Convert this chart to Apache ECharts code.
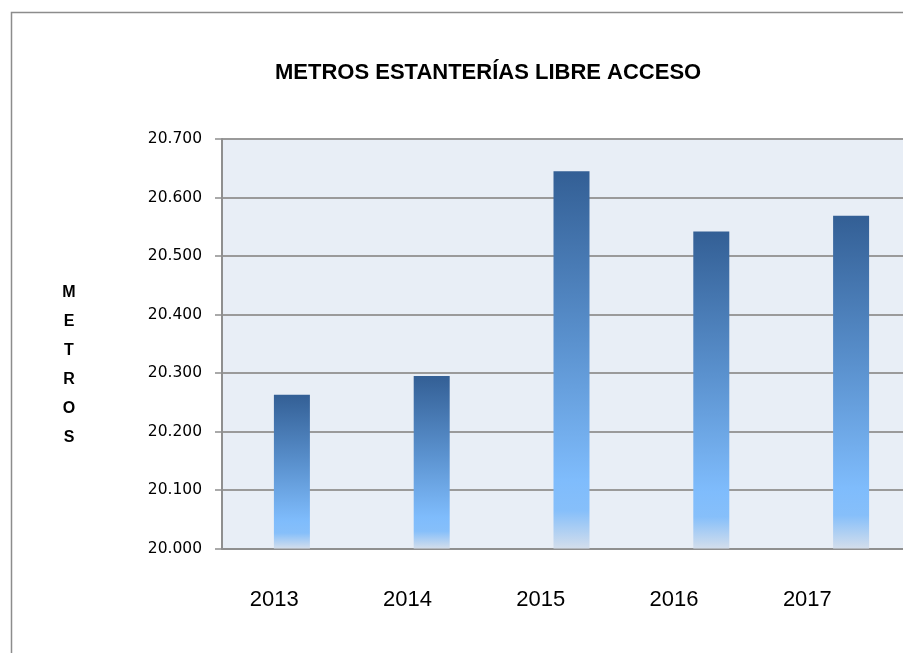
<!DOCTYPE html>
<html>
<head>
<meta charset="utf-8">
<title>Metros estanterías libre acceso</title>
<script src="https://cdn.jsdelivr.net/npm/echarts@6/dist/echarts.min.js"></script>
<style>
  html, body { margin: 0; padding: 0; background: #fff; overflow: hidden; }
  /* el gráfico original se sale por la derecha: lienzo algo más ancho que la ventana */
  #chart { width: 921px; height: 653px; }
</style>
</head>
<body>
<div id="chart"></div>
<script>
// datos
const years = ['2013', '2014', '2015', '2016', '2017']
const metros = [20263, 20295, 20645, 20542, 20569]
const yMin = 20000
const yMax = 20700
const yStep = 100

// 20700 -> "20.700"
function fmt(v) {
  return String(v).replace(/\B(?=(\d{3})+(?!\d))/g, '.')
}

const chart = echarts.init(document.getElementById('chart'))

chart.setOption({
  animation: false,
  title: {
    text: 'METROS ESTANTERÍAS LIBRE ACCESO',
    left: 275,
    top: 62,
    padding: 0,
    textStyle: {
      fontFamily: 'Liberation Sans',
      fontWeight: 'bold',
      fontSize: 22,
      color: '#000'
    }
  },
  graphic: [
    {
      type: 'rect',
      silent: true,
      shape: { x: 11.5, y: 12.5, width: 1000, height: 1000 },
      style: { fill: 'none', stroke: '#8c8c8c', lineWidth: 1.5 }
    },
    {
      type: 'text',
      silent: true,
      x: 69,
      y: 365,
      style: {
        text: 'M\nE\nT\nR\nO\nS',
        fontFamily: 'Liberation Sans',
        fontWeight: 'bold',
        fontSize: 16,
        lineHeight: 29,
        fill: '#000',
        align: 'center',
        verticalAlign: 'middle'
      }
    }
  ],
  grid: [
    {
      left: 222,
      right: 0,
      top: 139,
      bottom: 104.5,
      show: true,
      backgroundColor: '#E8EEF6',
      borderWidth: 0
    },
    {
      // solo para las etiquetas de los años
      left: 207.5,
      right: 47,
      top: 139,
      bottom: 104.5
    }
  ],
  xAxis: [
    {
      type: 'category',
      gridIndex: 0,
      data: years,
      axisLine: { lineStyle: { color: '#8f8f8f', width: 2 } },
      axisTick: { show: false },
      axisLabel: { show: false }
    },
    {
      type: 'category',
      gridIndex: 1,
      data: years,
      axisLine: { show: false },
      axisTick: { show: false },
      axisLabel: {
        margin: 40,
        fontFamily: 'Liberation Sans',
        fontSize: 22,
        color: '#000'
      }
    }
  ],
  yAxis: [
    {
      type: 'value',
      gridIndex: 0,
      min: yMin,
      max: yMax,
      interval: yStep,
      axisLine: { show: true, lineStyle: { color: '#8f8f8f', width: 2 } },
      axisTick: { show: true, length: 7, lineStyle: { color: '#8f8f8f', width: 1.5 } },
      splitLine: { lineStyle: { color: '#9a9a9a', width: 2 } },
      axisLabel: {
        margin: 20,
        fontFamily: 'DejaVu Sans',
        fontSize: 15.5,
        color: '#000',
        formatter: fmt
      }
    },
    {
      type: 'value',
      gridIndex: 1,
      show: false
    }
  ],
  series: [{
    name: 'Metros',
    type: 'bar',
    xAxisIndex: 0,
    yAxisIndex: 0,
    barWidth: 36,
    data: metros,
    itemStyle: {
      color: new echarts.graphic.LinearGradient(0, 0, 0, 1, [
        { offset: 0, color: '#335F95' },
        { offset: 0.45, color: '#5A91CE' },
        { offset: 0.82, color: '#7FBCFC' },
        { offset: 0.9, color: '#86BFFA' },
        { offset: 1, color: '#D3DEEC' }
      ])
    }
  }]
})
</script>
</body>
</html>
